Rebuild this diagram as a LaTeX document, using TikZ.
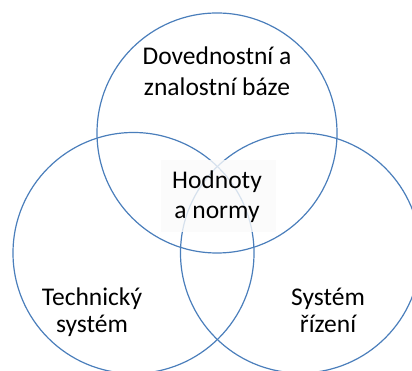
\documentclass[tikz,border=0pt]{standalone}
\usepackage{fontspec}
\setmainfont{Carlito}
\definecolor{ringblue}{HTML}{4A7EBB}
\definecolor{veil}{HTML}{FAFAFA}
\begin{document}
\begin{tikzpicture}[x=1pt,y=1pt,
  ring/.style={draw=ringblue,line width=1.2pt},
  lbl/.style={anchor=base,inner sep=0pt,font=\fontsize{25.5}{30}\selectfont,text=black}]
\useasboundingbox (0,0) rectangle (412,371);
\begin{scope}
\clip (0,0) rectangle (412,371);
% three overlapping sets
\draw[ring] (217,238) circle (120);
\draw[ring] (133.5,118) circle (120.5);
\draw[ring] (300.5,118) circle (120);
\end{scope}
% soft panel under the central label
\node[fill=veil,fill opacity=0.8,minimum width=115,minimum height=72,inner sep=0pt] (panel) at (218.5,175) {};
% labels
\node[lbl] (dov1) at (217,306) {Dovednostní a};
\node[lbl] (dov2) at (217,275) {znalostní báze};
\node[lbl] (hod1) at (217,182) {Hodnoty};
\node[lbl] (hod2) at (217,152) {a normy};
\node[lbl] (tech1) at (92,65) {Technický};
\node[lbl] (tech2) at (92,38) {systém};
\node[lbl] (sys1) at (328,65) {Systém};
\node[lbl] (sys2) at (328,38) {řízení};
\end{tikzpicture}
\end{document}
